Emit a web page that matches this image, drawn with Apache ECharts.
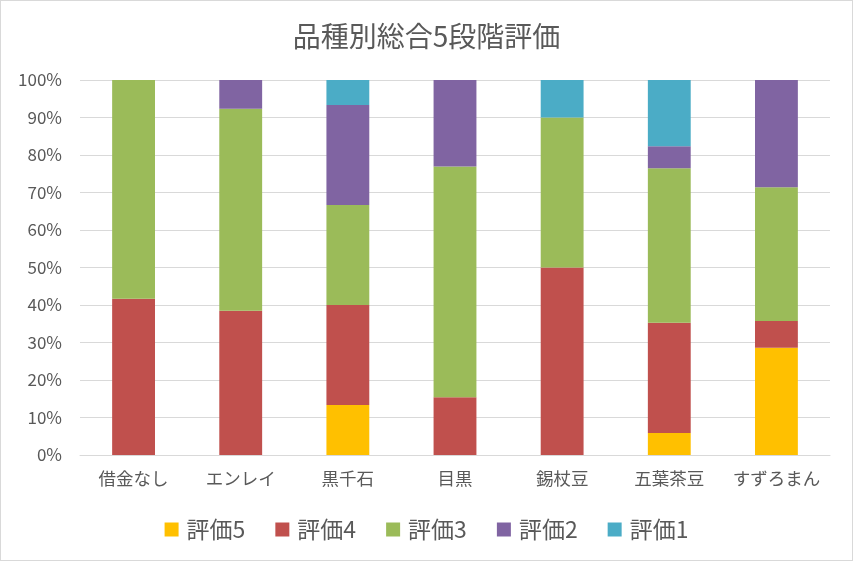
<!DOCTYPE html>
<html><head><meta charset="utf-8">
<script src="https://cdn.jsdelivr.net/npm/echarts@6/dist/echarts.min.js"></script>
<style>html,body{margin:0;padding:0;background:#fff}#c{width:851px;height:559px;border:1px solid #d9d9d9}</style>
</head><body><div id="c"></div>
<script>
const categories = ['借金なし','エンレイ','黒千石','目黒','錫杖豆','五葉茶豆','すずろまん'];
const seriesNames = ['評価5','評価4','評価3','評価2','評価1'];
const rating5 = [0, 0, 13.33, 0, 0, 5.88, 28.57];
const rating4 = [41.67, 38.46, 26.67, 15.38, 50, 29.41, 7.14];
const rating3 = [58.33, 53.85, 26.67, 61.54, 40, 41.18, 35.71];
const rating2 = [0, 7.69, 26.67, 23.08, 0, 5.88, 28.57];
const rating1 = [0, 0, 6.67, 0, 10, 17.65, 0];
const yTicks = ['0%','10%','20%','30%','40%','50%','60%','70%','80%','90%','100%'];
const colors = ['#FFC000','#C0504D','#9BBB59','#8064A2','#4BACC6'];
const values = [rating5, rating4, rating3, rating2, rating1];
const font = "'Noto Sans CJK JP', sans-serif";
const chart = echarts.init(document.getElementById('c'));
chart.setOption({
  animation: false,
  textStyle: {fontFamily: font},
  title: {text: '品種別総合5段階評価', left: 'center', top: 16,
    textStyle: {fontFamily: font, fontSize: 28, fontWeight: 'normal', color: '#595959'}},
  legend: {bottom: 14, itemWidth: 14, itemHeight: 14, itemGap: 30, icon: 'rect',
    data: seriesNames,
    textStyle: {fontFamily: font, fontSize: 23, color: '#595959', padding: [0, 0, 0, 3]}},
  grid: {left: 79, right: 22, top: 79, bottom: 105, containLabel: false},
  xAxis: {type: 'category', data: categories,
    axisLine: {lineStyle: {color: '#d9d9d9'}}, axisTick: {show: false},
    axisLabel: {interval: 0, fontFamily: font, fontSize: 17.5, color: '#595959', margin: 15}},
  yAxis: {type: 'value', min: 0, max: 100, interval: 10,
    axisLabel: {fontFamily: font, fontSize: 17, color: '#595959', margin: 18,
      formatter: v => yTicks[Math.round(v/10)]},
    splitLine: {lineStyle: {color: '#d9d9d9'}}, axisLine: {show: false}, axisTick: {show: false}},
  series: seriesNames.map((n, i) => ({
    name: n, type: 'bar', stack: 'total', barWidth: '40%',
    itemStyle: {color: colors[i]}, data: values[i]
  }))
});
</script></body></html>
